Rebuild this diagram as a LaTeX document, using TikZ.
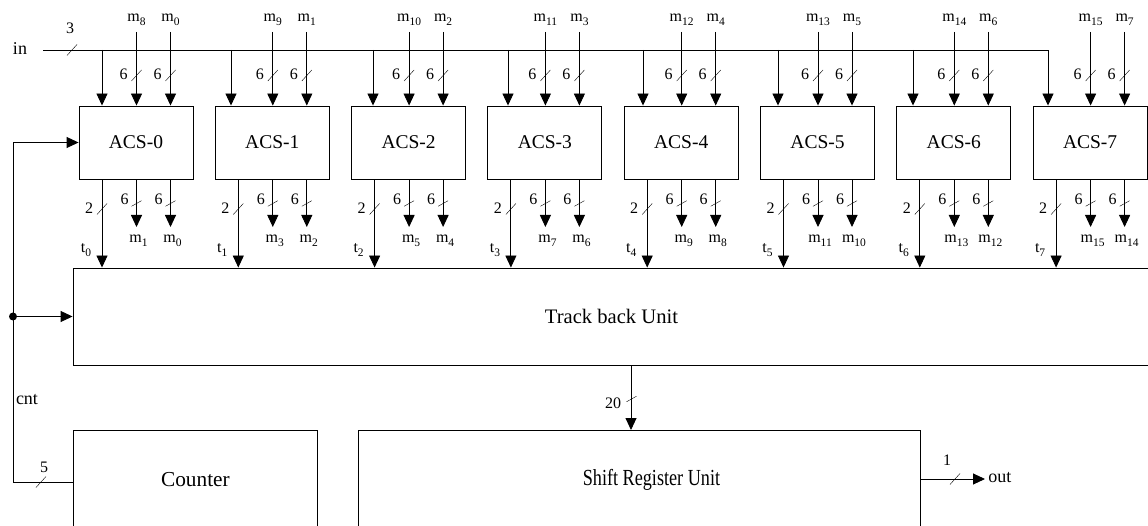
\documentclass[tikz,border=0pt]{standalone}
\usepackage{fontspec}
\setmainfont{Liberation Serif}
\usetikzlibrary{arrows.meta}
\newcommand\lsub[1]{\raisebox{-3.5pt}{\fontsize{11.5}{12}\selectfont #1}}
\newcommand\busmark[2]{\draw[thin] (#1-5,#2+5.5) -- (#1+5,#2-5.5);}
\newcommand\busflat[2]{\draw[thin] (#1-5,#2+2.8) -- (#1+5,#2-2.8);}
\begin{document}
\begin{tikzpicture}[x=1pt,y=-1pt,line width=0.9pt,
  arr/.style={-{Triangle[width=11pt,length=12pt]}},
  box/.style={draw,minimum width=114pt,minimum height=73pt,inner sep=0pt,font=\fontsize{19.5}{19.5}\selectfont},
  bigbox/.style={draw,inner sep=0pt},
  lab/.style={inner sep=0pt,anchor=base,font=\fontsize{16}{16}\selectfont},
  txt/.style={inner sep=0pt,anchor=base,font=\fontsize{18}{18}\selectfont}]
\path[use as bounding box] (0,0) rectangle (1148,526);
\clip (0,0) rectangle (1148,526);

% big boxes
\node[bigbox,minimum width=1077pt,minimum height=97pt,font=\fontsize{20.6}{20.6}\selectfont] (track) at (611.5,316.5) {Track back Unit};
\node[bigbox,minimum width=244pt,minimum height=98pt,anchor=north west,font=\fontsize{21.3}{21.3}\selectfont] (counter) at (73,430) {Counter};
\node[bigbox,minimum width=562pt,minimum height=98pt,anchor=north west,font=\fontsize{23}{23}\selectfont] (shift) at (358,430) {\hspace*{24pt}\scalebox{0.79}[1]{Shift Register Unit}};

% ACS units and their m connections
\foreach \i in {0,...,7} {
  \pgfmathsetmacro\L{79+136.3*\i}
  \pgfmathtruncatemacro\hi{\i+8}
  \pgfmathtruncatemacro\oa{2*\i+1}
  \pgfmathtruncatemacro\ob{2*\i}
  \pgfmathsetmacro\xa{\L+57.5}
  \pgfmathsetmacro\xb{\L+91.5}
  \pgfmathsetmacro\xt{\L+23}
  \node[box] (acs\i) at (\L+57,142.5) {ACS-\i};
  % inputs
  \coordinate (mta\i) at (\xa,32);
  \coordinate (mtb\i) at (\xb,32);
  \node[lab] (lta\i) at (\xa,22) {m\lsub{\hi}};
  \node[lab] (ltb\i) at (\xb,22) {m\lsub{\i}};
  \draw[arr] (mta\i) -- (mta\i |- acs\i.north);
  \draw[arr] (mtb\i) -- (mtb\i |- acs\i.north);
  \busmark{\xa}{75.5}
  \busmark{\xb}{75.5}
  \node[lab] (sa\i) at (\xa-13,80) {6};
  \node[lab] (sb\i) at (\xb-13,80) {6};
  % outputs
  \coordinate (mba\i) at (\xa,227);
  \coordinate (mbb\i) at (\xb,227);
  \draw[arr] (mba\i |- acs\i.south) -- (mba\i);
  \draw[arr] (mbb\i |- acs\i.south) -- (mbb\i);
  \node[lab] (lba\i) at (\xa+2,243) {m\lsub{\oa}};
  \node[lab] (lbb\i) at (\xb+2,243) {m\lsub{\ob}};
  \busflat{\xa}{203.5}
  \busflat{\xb}{203.5}
  \node[lab] (oa\i) at (\xa-12,205) {6};
  \node[lab] (ob\i) at (\xb-12,205) {6};
  % t output
  \coordinate (tt\i) at (\xt,179);
  \draw[arr] (tt\i |- acs\i.south) -- (tt\i |- track.north);
  \busmark{\xt}{209}
  \node[lab] (two\i) at (\xt-13,214) {2};
  \node[lab] (tl\i) at (\xt-16,253) {t\lsub{\i}};
}

% input bus
\node[txt] (inlab) at (20,55) {in};
\coordinate (inS) at (43,50);
\foreach \i/\x in {0/102,1/231,2/373,3/508,4/643,5/778,6/913,7/1048}
  \coordinate (in\i) at (\x,50);
\draw[arr] (inS) -- (in7) -- (in7 |- acs7.north);
\foreach \i in {0,...,6}
  \draw[arr] (in\i) -- (in\i |- acs\i.north);
\busmark{72}{50}
\node[lab] (three) at (70,34) {3};

% feedback / cnt
\coordinate (fbB) at (13,482);
\coordinate (fbT) at (13,142.5);
\draw[arr] (counter.west |- fbB) -- (fbB) -- (fbT) -- (acs0.west);
\node[circle,fill,inner sep=0pt,minimum size=8pt] (dot) at (13,316.5) {};
\draw[arr] (dot) -- (track.west);
\node[txt] (cnt) at (27,404) {cnt};
\busmark{41}{482}
\node[lab] (five) at (44,472) {5};

% track -> shift
\coordinate (tw) at (631,365);
\draw[arr] (tw |- track.south) -- (tw |- shift.north);
\busflat{631.5}{399}
\node[lab] (twenty) at (613,408) {20};

% output
\coordinate (outE) at (985,479);
\draw[arr] (shift.east |- outE) -- (outE);
\busmark{955}{479}
\node[lab] (one) at (947,465) {1};
\node[txt,anchor=base west] (outlab) at (988,482) {out};
\end{tikzpicture}
\end{document}
